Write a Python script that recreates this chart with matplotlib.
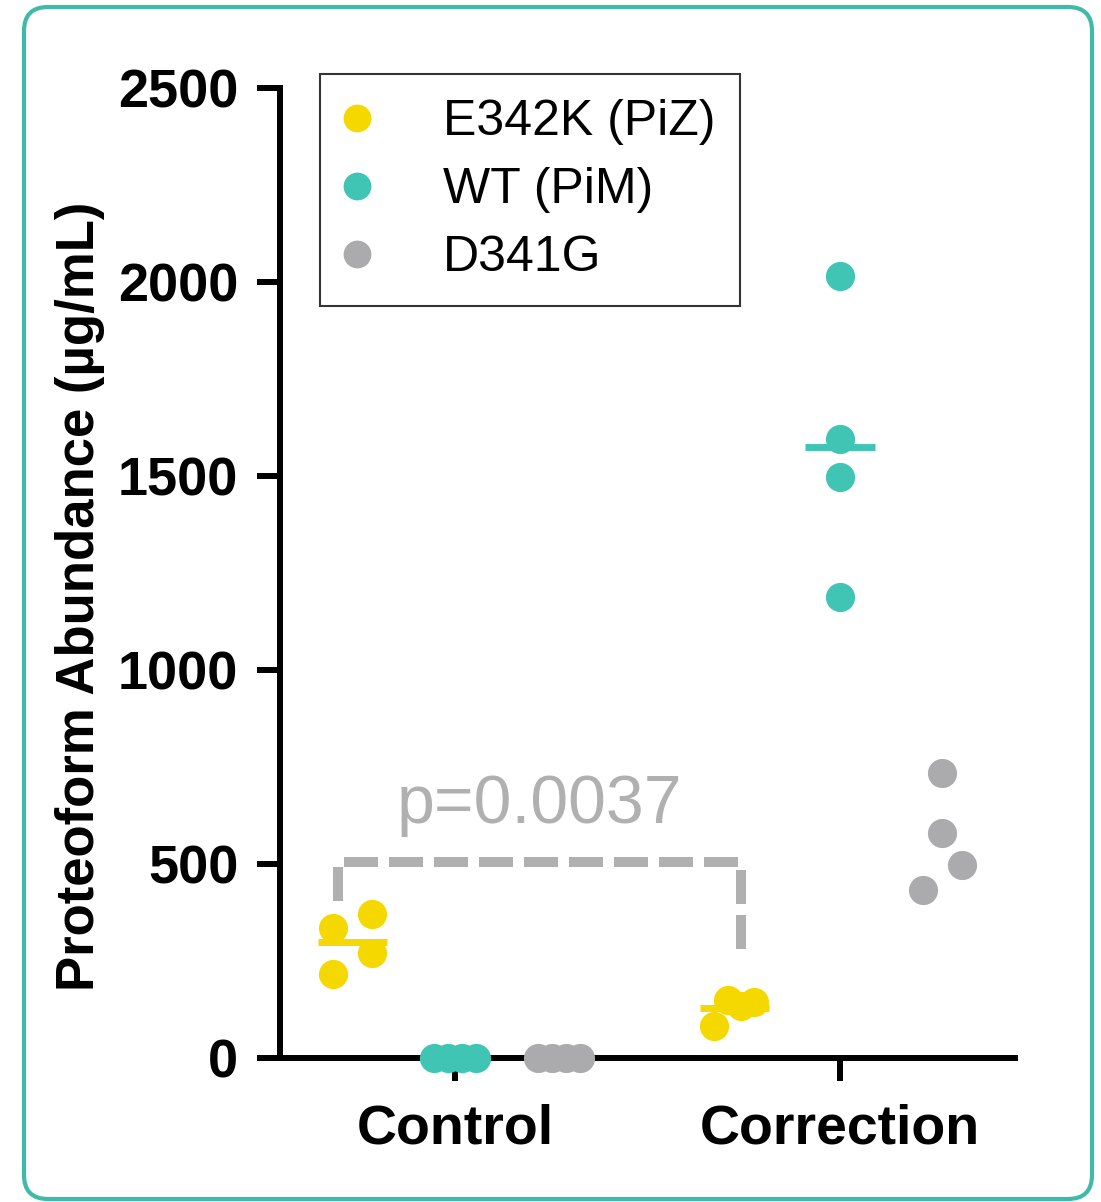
import numpy as np
import matplotlib
matplotlib.use('Agg')
import matplotlib.pyplot as plt
from matplotlib.patches import FancyBboxPatch
from matplotlib.lines import Line2D
from matplotlib.transforms import IdentityTransform

plt.rcParams['font.family'] = ['Liberation Sans', 'DejaVu Sans']

# datos (ug/mL)
grupos = ['Control', 'Correction']
piz_control = [335, 371, 271, 216]
piz_correction = [82, 150, 135, 145]
wt_control = [0, 0, 0, 0]
wt_correction = [2015, 1595, 1497, 1188]
d341g_control = [0, 0, 0, 0]
d341g_correction = [734, 580, 497, 433]
p_texto = 'p=0.0037'

amarillo = '#f5d800'
turquesa = '#40c4b4'
gris = '#ababad'

# desplazamientos horizontales de cada punto dentro del grupo
desp = {'piz': -0.27, 'wt': 0.0, 'd341g': 0.27}
jit_piz_control = [-0.047, 0.055, 0.055, -0.047]
jit_piz_correction = [-0.057, -0.021, 0.013, 0.047]
jit_cero = [-0.055, -0.018, 0.018, 0.055]
jit_wt_correction = [0, 0, 0, 0]
jit_d341g_correction = [-0.005, -0.005, 0.047, -0.055]

fig = plt.figure(figsize=(11.01, 12.02), dpi=100)
ax = fig.add_axes([0.2543, 0.1198, 0.6676, 0.807])

series = [
    (0, 'piz', piz_control, jit_piz_control, amarillo, True),
    (1, 'piz', piz_correction, jit_piz_correction, amarillo, True),
    (0, 'wt', wt_control, jit_cero, turquesa, False),
    (1, 'wt', wt_correction, jit_wt_correction, turquesa, True),
    (0, 'd341g', d341g_control, jit_cero, gris, False),
    (1, 'd341g', d341g_correction, jit_d341g_correction, gris, False),
]
for g, clave, vals, jit, color, media in series:
    xs = g + desp[clave] + np.array(jit)
    ax.plot(xs, vals, 'o', color=color, markersize=21, markeredgewidth=0,
            linestyle='none', clip_on=False, zorder=4)
    if media:
        xc = g + desp[clave] + np.mean(jit)
        ax.plot([xc - 0.09, xc + 0.09], [np.mean(vals)] * 2, color=color,
                lw=5, solid_capstyle='butt', zorder=5)

# corchete del p-valor
bx = [-0.304, -0.304, 0.743, 0.743]
by = [405, 505, 505, 276]
ax.plot(bx, by, color='#b0b0b0', lw=7.2, linestyle=(0, (3.4, 1.1)),
        dash_capstyle='butt', zorder=3)
ax.text(np.mean(bx), 606, p_texto, ha='center', va='baseline',
        fontsize=49, color='#b0b0b0')

ax.set_xlim(-0.4545, 1.4545)
ax.set_ylim(0, 2500)
ax.set_yticks([0, 500, 1000, 1500, 2000, 2500])
ax.set_xticks([0, 1])
ax.set_xticklabels(grupos)
for s in ['top', 'right']:
    ax.spines[s].set_visible(False)
for s in ['left', 'bottom']:
    ax.spines[s].set_linewidth(4.3)
ax.tick_params(axis='both', width=4.3, length=16.5)
ax.tick_params(axis='y', pad=13.5, labelsize=39)
ax.tick_params(axis='x', pad=16.5, labelsize=40)
for t in ax.get_xticklabels() + ax.get_yticklabels():
    t.set_fontweight('bold')
ax.set_ylabel('Proteoform Abundance (µg/mL)', fontsize=38, fontweight='bold')
ax.yaxis.set_label_coords(-0.238, 0.476)

handles = [Line2D([], [], marker='o', linestyle='none', color=c, markersize=20,
                  markeredgewidth=0) for c in [amarillo, turquesa, gris]]
leg = ax.legend(handles, ['E342K (PiZ)', 'WT (PiM)', 'D341G'], loc='upper left',
                bbox_to_anchor=(0.054, 1.014), borderaxespad=0, fontsize=36,
                frameon=True, fancybox=False, edgecolor='black',
                handletextpad=1.46, labelspacing=0.44, borderpad=0.5,
                handlelength=0.5)
leg.get_frame().set_linewidth(1.5)

# marco redondeado
marco = FancyBboxPatch((24, 3), 1068, 1192, boxstyle='round,pad=0,rounding_size=24',
                       transform=IdentityTransform(), facecolor='none',
                       edgecolor='#3fbaa8', linewidth=3)
fig.patches.append(marco)

fig.savefig('out.png', dpi=100)
